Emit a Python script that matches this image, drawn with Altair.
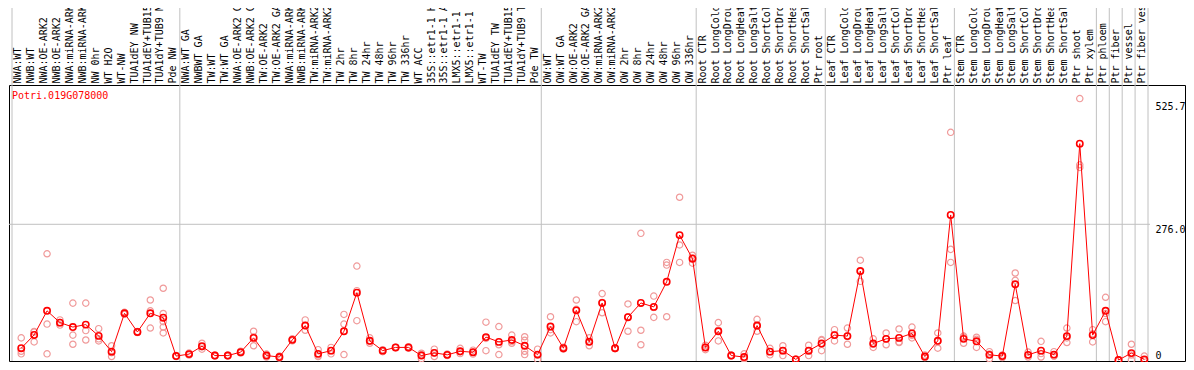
import json
import altair as alt
import pandas as pd

gene = "Potri.019G078000"

categories = [
    "NWA:WT", "NWB:WT", "NWA:OE-ARK2", "NWB:OE-ARK2", "NWA:miRNA-ARK2", "NWB:miRNA-ARK2",
    "NW 0hr", "WT H2O", "WT-NW", "TUA1dEY NW", "TUA1dEY+TUB15", "TUA1dY+TUB9 NW", "Pde NW",
    "NWA:WT GA", "NWBWT GA", "TW:WT", "TW:WT GA", "NWA:OE-ARK2 GA", "NWB:OE-ARK2 GA",
    "TW:OE-ARK2", "TW:OE-ARK2 GA", "NWA:miRNA-ARK2", "NWB:miRNA-ARK2", "TW:miRNA-ARK2",
    "TW:miRNA-ARK2", "TW 2hr", "TW 8hr", "TW 24hr", "TW 48hr", "TW 96hr", "TW 336hr",
    "WT ACC", "35S::etr1-1 H2O", "35S::etr1-1 ACC", "LMX5::etr1-1 H2O", "LMX5::etr1-1 ACC",
    "WT-TW", "TUA1dEY TW", "TUA1dEY+TUB15", "TUA1dY+TUB9 TW", "Pde TW",
    "OW:WT", "OW:WT GA", "OW:OE-ARK2", "OW:OE-ARK2 GA", "OW:miRNA-ARK2", "OW:miRNA-ARK2",
    "OW 2hr", "OW 8hr", "OW 24hr", "OW 48hr", "OW 96hr", "OW 336hr",
    "Root CTR", "Root LongCold", "Root LongDrought", "Root LongHeat", "Root LongSalt",
    "Root ShortCold", "Root ShortDrought", "Root ShortHeat", "Root ShortSalt", "Ptr root",
    "Leaf CTR", "Leaf LongCold", "Leaf LongDrought", "Leaf LongHeat", "Leaf LongSalt",
    "Leaf ShortCold", "Leaf ShortDrought", "Leaf ShortHeat", "Leaf ShortSalt", "Ptr leaf",
    "Stem CTR", "Stem LongCold", "Stem LongDrought", "Stem LongHeat", "Stem LongSalt",
    "Stem ShortCold", "Stem ShortDrought", "Stem ShortHeat", "Stem ShortSalt", "Ptr shoot",
    "Ptr xylem", "Ptr phloem", "Ptr fiber", "Ptr vessel", "Ptr fiber vessel",
]

means = [
    24, 51, 100, 76, 67, 72, 49, 17, 95, 57, 95, 86, 8,
    12, 28, 9, 9, 16, 45, 9, 6, 41, 70, 12.5, 19, 58.5, 137, 39, 19, 25.6, 25.6,
    9, 14.5, 10.5, 17.7, 15.8, 46.6, 36.8, 40.7, 29, 11,
    68, 24, 101, 37, 116, 24, 87, 116, 108, 159, 254, 206,
    25.6, 58.5, 9, 6, 70, 17, 19, 1.3, 19, 33.5,
    50.6, 48.6, 181, 33.5, 43, 45, 54, 7, 39, 295,
    43, 38, 10.5, 8, 154, 10.5, 19, 11, 48.6, 440, 50.6,
    100, 0, 14, 1.3,
]

replicates = [
    [45, 17.7, 12.5], [57, 36.8, 58], [216, 73, 12.5], [81.5, 76, 71], [115.7, 50.6, 32],
    [115.7, 59.8, 40.7], [63.7, 38.8, 43], [29, 7, 15], [97, 94, 93], [58, 56, 57],
    [122, 100, 65], [146, 94.6, 78, 67, 55], [8, 7, 9],
    [12, 10, 14], [34, 27, 22], [9, 8, 10], [9, 8, 10], [16, 14, 18], [58.5, 47, 29],
    [9, 12, 6], [6, 4, 8], [41, 43, 39], [81.5, 70, 60.5], [21, 7, 10], [25.6, 12.5, 19],
    [92.7, 73, 11], [191, 80, 141], [45, 34, 38], [19, 21, 17], [25.6, 25, 26], [27, 24, 25.6],
    [13.8, 2.6, 11], [22, 7, 14.5], [12, 9, 10.5], [23.7, 13, 16.4], [20, 12, 15.4],
    [77, 19, 44], [68, 11, 31], [50.6, 34, 37.5], [47.3, 40, 17.7, 11], [22, 1, 10],
    [88, 61.7, 55], [24, 22, 26], [122, 78, 103], [45, 29, 37], [135, 96, 117], [24, 23, 25],
    [114, 58.5, 88], [257.6, 60.5, 31], [130, 86.7, 107], [198.5, 193, 88], [331, 234, 198.5],
    [213, 208, 197],
    [25.6, 21, 30], [76, 38.8, 60.7], [9, 8, 10], [12.5, 2, 3.5], [82.8, 58.5, 68.7],
    [23.7, 10.5, 17], [29, 9, 19], [1, 1.5, 1.4], [30, 9, 18], [40, 19, 41.5],
    [61.7, 38.8, 51.3], [65, 32, 48.8], [203, 160, 180], [43, 25.6, 32], [55, 31, 43],
    [63, 35.5, 36.5], [67, 50, 45], [10, 6, 5], [55, 24, 38], [463, 225, 198.5],
    [48.6, 34, 46.4], [42, 25.6, 46.4], [17, 2.6, 12], [10, 5, 9], [177, 162, 121],
    [16, 6, 9.5], [38, 6, 13], [17, 8, 8], [65, 35.5, 45], [531.7, 391.7, 397],
    [61.7, 36.8, 53.3], [127.5, 78, 94.5], [0, 0, 0], [32, 0, 10], [8, 0, 0],
]

group_starts = [0, 13, 41, 53, 63, 73, 84, 85, 86, 87]
y_ticks = [0, 276.0, 525.7]
grid_y = [276.0]

FONT = "DejaVu Sans Mono"
idx = list(range(len(categories)))

df_mean = pd.DataFrame({"i": idx, "v": means})
df_rep = pd.DataFrame([{"i": i, "v": v} for i, reps in enumerate(replicates) for v in reps])
df_groups = pd.DataFrame({"i": group_starts})
df_end = pd.DataFrame({"i": [idx[-1]]})
df_grid = pd.DataFrame({"v": grid_y})
df_title = pd.DataFrame({"t": [gene]})

W, H = 1176, 276
x_scale = alt.Scale(domain=idx, range=[3, 1139], paddingInner=0, paddingOuter=0)
y_scale = alt.Scale(domain=[-2.03, 559.3], nice=False, zero=False)

x_axis = alt.Axis(
    orient="top", title=None, labelExpr=json.dumps(categories) + "[datum.value]",
    labelAngle=270, labelAlign="left", labelBaseline="middle", labelPadding=2,
    ticks=False, tickSize=0, domain=False, grid=False, bandPosition=0.66,
    labelFont=FONT, labelFontSize=10, labelColor="black", labelLimit=300,
)
y_axis = alt.Axis(
    orient="right", title=None, values=y_ticks, offset=-32,
    labelExpr="datum.value == 0 ? '0' : format(datum.value, '.1f')",
    labelAlign="left",
    labelBaseline={"condition": {"test": "datum.value <= 0", "value": "bottom"}, "value": "top"},
    labelPadding=2, ticks=False, tickSize=0, domain=False, grid=False,
    labelFont=FONT, labelFontSize=10, labelColor="black",
)

BP = 0.715
GRID = "#c0c0c0"

vgrid = alt.Chart(df_groups).mark_rule(color=GRID, strokeWidth=1).encode(
    x=alt.X("i:O", scale=x_scale, axis=x_axis, bandPosition=0),
    y=alt.value(-95), y2=alt.value(H),
)
vgrid_end = alt.Chart(df_end).mark_rule(color=GRID, strokeWidth=1).encode(
    x=alt.X("i:O", scale=x_scale, axis=x_axis, bandPosition=1),
    y=alt.value(-95), y2=alt.value(H),
)
hgrid = alt.Chart(df_grid).mark_rule(color=GRID, strokeWidth=1).encode(
    y=alt.Y("v:Q", scale=y_scale, axis=y_axis),
    x=alt.value(0), x2=alt.value(1141),
)
reps = alt.Chart(df_rep).mark_point(
    shape="circle", filled=False, color="#f09a9a", size=40, strokeWidth=1.2, opacity=1
).encode(
    x=alt.X("i:O", scale=x_scale, axis=x_axis, bandPosition=BP),
    y=alt.Y("v:Q", scale=y_scale, axis=y_axis),
)
line = alt.Chart(df_mean).mark_line(color="#ff0000", strokeWidth=1).encode(
    x=alt.X("i:O", scale=x_scale, axis=x_axis, bandPosition=BP),
    y=alt.Y("v:Q", scale=y_scale, axis=y_axis),
)
pts = alt.Chart(df_mean).mark_point(
    shape="circle", filled=False, color="#ff0000", size=40, strokeWidth=1.6, opacity=1
).encode(
    x=alt.X("i:O", scale=x_scale, axis=x_axis, bandPosition=BP),
    y=alt.Y("v:Q", scale=y_scale, axis=y_axis),
)
title = alt.Chart(df_title).mark_text(
    color="#ff0000", font=FONT, fontSize=10, align="left", baseline="middle"
).encode(text="t:N", x=alt.value(3), y=alt.value(11))

chart = alt.layer(vgrid, vgrid_end, hgrid, reps, line, pts, title).properties(
    width=W, height=H,
    autosize=alt.AutoSizeParams(type="none"),
    padding={"left": 1, "top": 77, "right": 1, "bottom": 1},
    background="white",
).configure_view(stroke="black", strokeWidth=1)

chart.save("out.html", embed_options={"renderer": "svg", "actions": False})
